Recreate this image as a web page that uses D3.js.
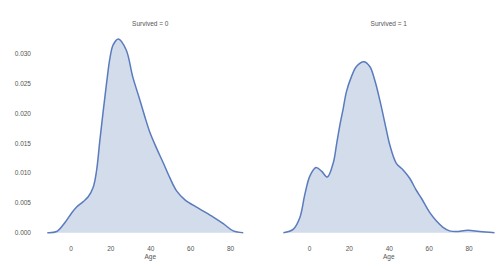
<!DOCTYPE html>
<html>
<head>
<meta charset="utf-8">
<script src="https://cdn.jsdelivr.net/npm/d3@7"></script>
<style>
body { margin: 0; background: #fff; }
text { font-family: "Liberation Sans", Arial, sans-serif; fill: #555; }
</style>
</head>
<body>
<svg id="chart" width="500" height="268"></svg>
<script>
// Survived = 0 density
var ages0 = [-11.6, -6.9, -2.75, 0.6, 3.1, 6.4, 8.9, 11.4, 13.1, 14.8, 18.1, 19.8, 21.4, 24, 27.9, 31.2, 34.6, 37.3, 39.8, 43.2, 46.5, 49.8, 53.2, 57.4, 64.1, 71.6, 76.6, 81.6, 86.6];
var dens0 = [0, 0.0002, 0.0017, 0.0033, 0.0043, 0.0052, 0.006, 0.0076, 0.0104, 0.0156, 0.025, 0.0292, 0.0314, 0.0324, 0.0306, 0.0261, 0.0224, 0.0194, 0.0168, 0.0141, 0.0117, 0.0092, 0.0070, 0.0055, 0.0041, 0.0026, 0.0015, 0.0003, 0];

// Survived = 1 density
var ages1 = [-12.8, -7.8, -4.5, -2, 0.5, 3.5, 6.3, 9.2, 12.2, 13.8, 15.5, 17.2, 18.8, 21.3, 23.8, 27.5, 30.5, 33, 35.5, 38.8, 40.5, 43.8, 47.2, 50.5, 53.8, 56.3, 60.5, 63.8, 67.2, 70.5, 73.8, 79.7, 85.5, 93];
var dens1 = [0, 0.0006, 0.0026, 0.0065, 0.0095, 0.0109, 0.0103, 0.0093, 0.0117, 0.0147, 0.018, 0.0208, 0.0236, 0.0261, 0.0278, 0.0286, 0.0278, 0.0255, 0.0222, 0.0172, 0.0147, 0.0116, 0.0105, 0.0091, 0.0071, 0.0058, 0.0034, 0.002, 0.0009, 0.0003, 0.0002, 0.0004, 0.0002, 0];

var titles = ["Survived = 0", "Survived = 1"];
var xTicks = [0, 20, 40, 60, 80];
var yTicks = [0, 0.005, 0.010, 0.015, 0.020, 0.025, 0.030];

var svg = d3.select("#chart");

var y = d3.scaleLinear().domain([0, 0.030]).range([232.7, 53.3]);

var panels = [
  {ages: ages0, dens: dens0, left: 44.5, title: titles[0]},
  {ages: ages1, dens: dens1, left: 283, title: titles[1]}
];

panels.forEach(function(p, k){
  var x = d3.scaleLinear().domain([-13, 93]).range([p.left, p.left + 211.5]);
  var g = svg.append("g");
  var pts = p.ages.map(function(a, i){ return [a, p.dens[i]]; });

  var area = d3.area()
    .x(function(d){ return x(d[0]); })
    .y0(y(0))
    .y1(function(d){ return y(d[1]); })
    .curve(d3.curveCatmullRom.alpha(0.5));
  var line = d3.line()
    .x(function(d){ return x(d[0]); })
    .y(function(d){ return y(d[1]); })
    .curve(d3.curveCatmullRom.alpha(0.5));

  g.append("path").attr("d", area(pts)).attr("fill", "#4c72b0").attr("fill-opacity", 0.25);
  g.append("path").attr("d", line(pts)).attr("fill", "none").attr("stroke", "#5a7bbd").attr("stroke-width", 1.5);

  // x axis, no line or ticks
  var xa = g.append("g").attr("transform", "translate(0,240)")
    .call(d3.axisBottom(x).tickValues(xTicks).tickSize(0).tickPadding(6).tickFormat(d3.format("d")));
  xa.select(".domain").remove();
  xa.selectAll("text").attr("font-size", 6.5).attr("fill", "#555");

  g.append("text").attr("x", x(40)).attr("y", 259).attr("text-anchor", "middle")
    .attr("font-size", 6.5).text("Age");

  g.append("text").attr("x", p.left + 105.75).attr("y", 26).attr("text-anchor", "middle")
    .attr("font-size", 6.5).text(p.title);

  if (k === 0) {
    var ya = g.append("g").attr("transform", "translate(38,0)")
      .call(d3.axisLeft(y).tickValues(yTicks).tickSize(0).tickPadding(7).tickFormat(d3.format(".3f")));
    ya.select(".domain").remove();
    ya.selectAll("text").attr("font-size", 6.5).attr("fill", "#555");
  }
});
</script>
</body>
</html>
